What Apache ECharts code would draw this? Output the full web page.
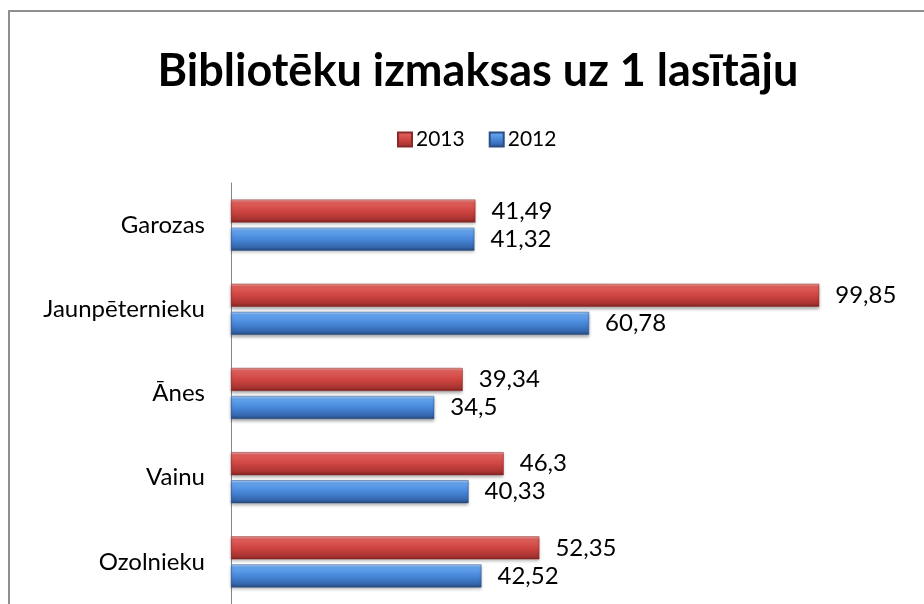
<!DOCTYPE html>
<html>
<head>
<meta charset="utf-8">
<script src="https://cdn.jsdelivr.net/npm/echarts@6/dist/echarts.min.js"></script>
<style>html,body{margin:0;padding:0;background:#fff;}#c{width:924px;height:604px;}</style>
</head>
<body>
<div id="c"></div>
<script>
const categories = ['Garozas', 'Jaunpēternieku', 'Ānes', 'Vainu', 'Ozolnieku'];
const seriesNames = ['2013', '2012'];
const values2013 = [41.49, 99.85, 39.34, 46.3, 52.35];
const values2012 = [41.32, 60.78, 34.5, 40.33, 42.52];

const FONT = 'Lato, "Open Sans", sans-serif';
const redGrad = new echarts.graphic.LinearGradient(0, 0, 0, 1, [
  {offset: 0, color: '#eea3a1'},
  {offset: 0.12, color: '#e0605c'},
  {offset: 0.5, color: '#cf4542'},
  {offset: 0.85, color: '#a93431'},
  {offset: 1, color: '#7d2321'}
]);
const blueGrad = new echarts.graphic.LinearGradient(0, 0, 0, 1, [
  {offset: 0, color: '#aed0f7'},
  {offset: 0.12, color: '#66a5ee'},
  {offset: 0.5, color: '#4888da'},
  {offset: 0.85, color: '#3566ad'},
  {offset: 1, color: '#24477a'}
]);
const fmt = p => String(p.value).replace('.', ',');

const chart = echarts.init(document.getElementById('c'), null, {renderer: 'canvas'});
chart.setOption({
  animation: false,
  backgroundColor: '#fff',
  graphic: [{
    type: 'rect', shape: {x: 9, y: 11, width: 1200, height: 1200},
    style: {fill: 'none', stroke: '#8f8f8f', lineWidth: 2}, z: 100, silent: true
  }],
  title: {
    text: 'Bibliotēku izmaksas uz 1 lasītāju',
    left: 473, top: 44, textAlign: 'center',
    textStyle: {fontFamily: FONT, fontSize: 45, fontWeight: 'bold', color: '#000'}
  },
  legend: {
    data: seriesNames, left: 392, top: 124,
    icon: 'rect', itemWidth: 14, itemHeight: 14, itemGap: 24,
    textStyle: {fontFamily: FONT, fontSize: 21, color: '#000', padding: [0, 0, 0, -1]}
  },
  grid: {left: 231, top: 183, height: 427.5, right: 45, containLabel: false},
  xAxis: {
    type: 'value', min: 0, max: 110,
    axisLine: {show: false}, axisTick: {show: false}, axisLabel: {show: false}, splitLine: {show: false}
  },
  yAxis: {
    type: 'category', data: categories, inverse: true,
    axisLine: {show: true, lineStyle: {color: '#868686', width: 1}},
    axisTick: {show: false},
    axisLabel: {fontFamily: FONT, fontSize: 24, color: '#000', margin: 26}
  },
  series: [
    {
      name: seriesNames[0], type: 'bar', data: values2013, barWidth: 23, barGap: '22%',
      itemStyle: {color: redGrad, borderColor: '#8a2a28', borderWidth: 0.5,
        shadowColor: 'rgba(0,0,0,0.3)', shadowBlur: 3, shadowOffsetY: 2},
      label: {show: true, position: 'right', distance: 16, formatter: fmt,
        fontFamily: FONT, fontSize: 24, color: '#000'}
    },
    {
      name: seriesNames[1], type: 'bar', data: values2012, barWidth: 23,
      itemStyle: {color: blueGrad, borderColor: '#2a4f85', borderWidth: 0.5,
        shadowColor: 'rgba(0,0,0,0.3)', shadowBlur: 3, shadowOffsetY: 2},
      label: {show: true, position: 'right', distance: 16, formatter: fmt,
        fontFamily: FONT, fontSize: 24, color: '#000'}
    }
  ]
});
</script>
</body>
</html>
